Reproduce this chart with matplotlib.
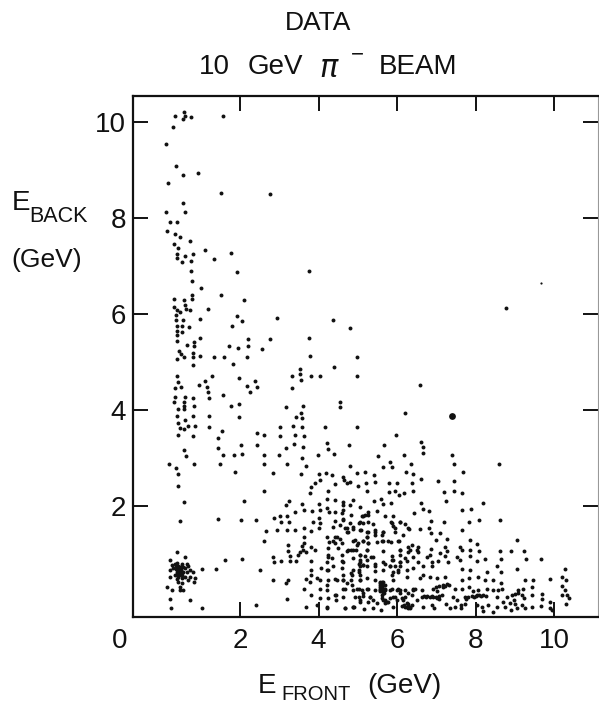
import numpy as np
import matplotlib
matplotlib.use("Agg")
import matplotlib.pyplot as plt
from matplotlib.transforms import blended_transform_factory

# (E_front, E_back) in GeV
events_high = [
(.34,10.12),(.57,10.19),(.54,10.05),(.60,10.12),(.76,10.09),(1.56,10.12),(.30,9.88),(.11,9.53),(.36,9.08),(.56,8.89),
(.92,8.92),(.16,8.72),(1.52,8.51),(2.76,8.49),(.56,8.30),(.12,8.11),(.60,8.11),(.40,7.92),(.21,7.90),(.14,7.72),
(.34,7.67),(.48,7.59),(.73,7.52),(.33,7.45),(.42,7.36),(1.12,7.32),(1.77,7.27),(.40,7.25),(.40,7.16),(.60,7.21),
(.79,7.25),(.53,7.07),(.74,7.10),(1.34,7.13),(.74,6.88),(1.92,6.86),(3.75,6.90),(.77,6.68),(1.01,6.53),(1.52,6.40),
(.78,6.39),(.77,6.31),(.33,6.30),(.57,6.29),(2.10,6.28),(.60,6.18),(.31,6.14),(.39,6.08),(.47,6.04),(.62,6.09),
(.73,6.08),(1.18,6.10),(.37,5.97),(1.93,5.95),(2.93,5.91),(4.36,5.87),(.37,5.87),(.54,5.88),(.97,5.90),(2.05,5.84),
(.39,5.75),(.53,5.75),(.71,5.73),(1.80,5.75),(4.80,5.70),(.39,5.65),(.52,5.61),(.39,5.56),(.99,5.50),(2.20,5.48),
(2.76,5.48),(3.75,5.50),(.39,5.43),(.82,5.42),(1.71,5.32),(.65,5.34),(.82,5.33),(1.94,5.29),(2.20,5.32),(2.55,5.27),
(.45,5.23),(.49,5.16),(.79,5.18),(.79,5.09),(.97,5.12),(3.78,5.13),(.57,5.09),(.40,5.06),(1.34,5.09),(1.58,5.11),
(2.17,5.09),(4.99,5.11),(8.78,6.11),
]
events_upper_mid = [
(.79,4.93),(1.82,4.95),(3.54,4.86),(3.54,4.75),(3.55,4.62),(3.32,4.71),(3.82,4.71),(4.05,4.71),(4.39,4.89),(4.99,4.71),
(.40,4.71),(1.28,4.71),(1.98,4.66),(1.12,4.61),(.41,4.57),(.96,4.52),(.49,4.48),(.34,4.46),(1.17,4.48),(2.18,4.50),
(2.38,4.59),(2.43,4.48),(3.32,4.45),(2.26,4.37),(1.18,4.37),(1.21,4.25),(1.57,4.30),(.35,4.27),(.33,4.17),(.59,4.27),
(.57,4.16),(.81,4.24),(.84,4.08),(.57,4.07),(1.77,4.09),(1.98,4.12),(4.55,4.17),(4.56,4.05),(3.17,4.05),(3.61,4.07),
(.41,4.01),(.57,4.02),(.40,3.87),(.79,3.87),(1.21,3.88),(1.97,3.86),(3.55,3.94),(3.42,3.85),(3.59,3.82),(.61,3.78),
(.41,3.72),(.68,3.67),(.85,3.66),(.47,3.62),(.57,3.61),(1.20,3.64),(3.01,3.64),(3.35,3.66),(3.58,3.64),(4.16,3.64),
(4.98,3.64),(1.53,3.56),(2.43,3.51),(2.62,3.48),(.41,3.48),(.79,3.46),(3.03,3.46),(3.39,3.48),(3.64,3.46),(1.44,3.41),
(4.21,3.30),(2.03,3.26),(2.43,3.26),(3.38,3.28),(3.61,3.23),(4.78,3.26),(1.44,3.20),(3.16,3.21),(4.24,3.19),(.58,3.17),
(.62,3.04),(1.57,3.07),(1.84,3.06),(2.06,3.08),(2.61,3.07),(3.00,3.07),(3.98,3.06),(4.39,3.08),(3.58,3.00),(2.61,2.87),
(3.20,2.87),(3.67,2.83),(4.79,2.84),(.18,2.87),(.84,2.87),(1.49,2.87),(.37,2.78),(1.88,2.70),(2.84,2.69),(.41,2.66),
(3.56,2.67),(4.01,2.66),(4.18,2.68),(4.35,2.65),(4.97,2.68),(4.62,2.60),(4.65,2.53),(4.72,2.48),(4.81,2.50),(4.04,2.53),
(3.92,2.47),(3.82,2.39),(3.79,2.26),(4.42,2.46),(.41,2.42),(5.0,2.42),(4.25,2.32),(2.61,2.31),
]
events_lower_mid = [
(4.22,2.14),(4.42,2.12),(4.63,2.09),(4.89,2.12),(2.10,2.11),(.57,2.09),(3.24,2.11),(3.16,2.01),(3.58,2.03),(4.00,2.05),
(4.21,1.96),(4.62,2.01),(4.80,2.01),(4.63,1.92),(3.40,1.87),(3.64,1.91),(3.83,1.89),(4.04,1.91),(4.27,1.87),(4.42,1.87),
(4.59,1.85),(4.84,1.81),(2.87,1.74),(3.02,1.80),(3.19,1.78),(3.04,1.66),(3.24,1.66),(.48,1.69),(1.44,1.72),(2.03,1.71),
(2.40,1.71),(3.87,1.66),(4.04,1.65),(4.02,1.74),(4.63,1.72),(4.42,1.69),(2.65,1.48),(2.95,1.49),(3.19,1.50),(3.39,1.50),
(3.64,1.55),(3.82,1.47),(4.01,1.55),(4.38,1.57),(4.55,1.60),(4.72,1.53),(4.75,1.46),(4.89,1.51),(5.02,1.64),(4.80,1.64),
(2.61,1.28),(3.64,1.35),(3.63,1.22),(4.21,1.35),(4.42,1.36),(4.55,1.32),(4.38,1.26),(3.23,1.19),(3.59,1.17),(3.82,1.15),
(3.91,1.08),(4.28,1.24),(4.50,1.12),(4.61,1.22),(4.93,1.29),(5.0,1.22),(3.23,1.06),(3.53,1.05),(3.61,1.08),(3.68,1.05),
(4.72,1.06),(4.84,1.08),(4.95,1.08),(3.27,.96),(3.49,.98),(4.25,.94),(4.61,.98),(2.83,.94),(2.87,.84),(3.05,.86),
(3.27,.86),(3.43,.85),(3.81,.85),(4.22,.84),(4.61,.85),(4.89,.91),(5.02,.80),(1.62,.87),(2.05,.89),
]
events_low_cluster = [
(.40,1.04),(.61,.94),(.22,.87),(.26,.77),(.34,.80),(.40,.82),(.51,.80),(.64,.80),(.68,.74),(.73,.67),
(.22,.67),(.30,.70),(.37,.74),(.43,.74),(.47,.70),(.43,.67),(.49,.67),(.39,.63),(.45,.61),(.54,.63),
(.60,.70),(.64,.63),(.22,.53),(.34,.56),(.43,.53),(.51,.56),(.60,.53),(.68,.46),(.73,.53),(.81,.63),
(.85,.49),(.83,.42),(.43,.42),(.51,.39),(.47,.32),(.56,.26),(.47,.24),(.15,.31),(.26,.24),(.22,.07),
(.23,-.13),(.73,.04),(1.04,-.12),(1.02,.68),(1.40,.69),(2.41,-.06),(2.51,.67),(2.84,.46),(.46,.72),(.41,.69),
(.45,.65),(.48,.64),(.42,.60),(.47,.58),(.50,.72),(.38,.69),(.44,.56),(.52,.50),(.40,.48),(.56,.72),
(.43,.63),(.46,.60),(.49,.60),(.40,.58),(.44,.70),(.50,.62),
]
events_floor_left = [
(3.23,.46),(3.17,.39),(3.21,.07),(3.62,.28),(3.80,.14),(3.68,-.10),(3.97,-.06),(4.22,-.12),(4.04,.08),(4.25,.09),
(4.45,.15),(4.45,.04),(4.63,.11),(4.68,-.12),(4.91,-.10),(5.02,.11),(4.89,.25),(4.68,.28),(4.72,.39),(4.84,.46),
(4.63,.46),(4.21,.35),(4.25,.46),(4.42,.47),(4.04,.28),(4.21,.24),(3.67,.47),(3.78,.42),(3.82,.56),(3.95,.49),
(4.04,.46),(3.82,.67),(4.06,.70),(4.25,.67),(4.59,.70),(4.63,.56),(4.84,.60),(5.02,.63),(5.06,.74),(4.38,.74),
]
events_right_upper = [
(6.59,4.52),(6.20,3.93),(5.97,3.48),(6.60,3.34),(6.65,3.22),(6.67,3.10),(5.66,3.27),(6.19,3.07),(7.41,3.07),(7.44,2.88),
(8.60,2.87),(5.52,3.03),(5.83,2.91),(5.64,2.81),(5.87,2.81),(6.36,2.87),(6.23,2.71),(6.41,2.67),(5.19,2.70),(5.42,2.64),
(5.44,2.50),(6.62,2.57),(7.68,2.71),(7.05,2.51),(7.45,2.51),(7.45,2.31),(7.21,2.29),(7.66,2.26),(5.21,2.47),(5.23,2.31),
(5.80,2.47),(5.99,2.48),(6.38,2.47),(5.95,2.32),(5.80,2.28),(6.04,2.23),(6.19,2.26),(6.40,2.32),(5.42,2.11),(5.59,2.15),
(5.65,2.04),(5.84,2.07),(6.60,2.07),(7.26,2.10),(8.19,2.06),(5.48,1.89),(5.69,1.80),(5.89,1.80),(6.43,1.85),(6.66,1.93),
(6.81,1.89),(7.65,1.91),(7.88,1.93),(5.25,1.87),(5.19,1.81),(5.10,1.78),(5.06,1.98),(5.84,1.67),(5.91,1.59),(6.08,1.67),
(6.21,1.62),(6.31,1.52),(5.95,1.46),(6.16,1.39),(5.40,1.62),(5.27,1.67),(5.14,1.64),(6.86,1.69),(7.21,1.67),(7.84,1.67),
(8.09,1.70),(8.63,1.70),(6.58,1.52),(6.81,1.55),(6.87,1.44),(7.09,1.44),(7.65,1.50),(5.09,1.50),(5.23,1.46),(5.44,1.50),
(5.65,1.46),(5.61,1.39),(5.44,1.39),(5.23,1.36),(7.00,1.30),(7.27,1.32),(7.87,1.29),(5.14,1.26),(5.27,1.22),(5.48,1.24),
(5.65,1.26),(5.84,1.24),(6.04,1.26),(6.29,1.15),(6.39,1.19),(6.54,1.15),(9.07,1.30),(7.61,1.15),(8.05,1.20),(7.22,1.15),
]
events_right_lower = [
(5.23,1.08),(5.65,1.07),(6.08,1.08),(6.50,1.08),(6.87,1.10),(7.28,1.06),(7.66,1.08),(8.09,1.06),(7.86,1.08),(8.62,1.06),
(8.90,1.07),(9.24,1.06),(7.09,1.03),(6.84,.98),(7.22,.96),(6.54,1.05),(6.29,1.05),(6.08,.98),(5.86,.96),(5.38,.94),
(5.19,.96),(5.06,.98),(9.66,.90),(8.66,.90),(8.23,.90),(9.28,.89),(7.52,.94),(7.86,.96),(8.03,.86),(7.61,.87),
(5.91,.87),(6.08,.84),(6.25,.86),(6.42,.93),(6.54,.84),(6.76,.94),(6.88,.84),(7.05,.86),(7.29,.84),(5.23,.87),
(5.06,.87),(5.14,.77),(5.44,.80),(5.69,.80),(5.82,.74),(5.95,.74),(6.08,.74),(10.27,.69),(9.06,.68),(8.56,.75),
(8.64,.63),(8.29,.63),(7.65,.69),(7.86,.67),(6.90,.74),(6.67,.75),(6.42,.70),(6.25,.67),(5.06,.56),(5.44,.65),
(5.65,.67),(5.89,.63),(6.03,.63),(10.20,.51),(10.30,.46),(9.91,.47),(9.47,.46),(9.26,.46),(8.06,.53),(7.84,.49),
(8.24,.46),(8.45,.46),(8.66,.39),(7.65,.46),(6.59,.49),(6.84,.53),(7.01,.49),(7.22,.53),(6.67,.56),(6.25,.53),
(5.91,.46),(5.65,.42),(5.44,.46),(5.23,.49),(5.06,.46),
]
events_dense_55 = [
(5.57,.39),(5.63,.42),(5.70,.35),(5.57,.31),(5.63,.31),(5.70,.28),(5.57,.24),(5.64,.22),(5.70,.24),(5.63,.15),
(5.63,.08),(5.70,.04),(5.70,-.03),(5.60,.35),(5.66,.27),(5.60,.27),(5.66,.18),(5.57,.42),(5.57,.35),(5.63,.35),
(5.57,.28),(5.63,.28),(5.57,.22),(5.65,.18),(5.65,.04),(5.74,.01),
]
events_dense_70 = [
(6.69,.12),(6.77,.12),(6.84,.11),(6.92,.10),(6.99,.11),(7.08,.12),(7.14,.15),(6.92,.28),(6.99,.31),(7.08,.33),
(7.18,.35),(7.27,.37),(7.33,.35),(7.18,.31),(7.03,.22),(7.08,.06),(6.73,.10),(6.88,.13),(7.03,.09),(7.23,.33),
]
events_dense_80 = [
(7.73,.11),(7.82,.10),(7.90,.12),(8.01,.12),(8.10,.15),(8.20,.15),(8.27,.12),(7.94,.22),(7.77,.06),(7.95,.10),
(8.05,.14),(8.15,.12),
]
events_dense_63 = [(6.12,-.08),(6.21,-.10),(6.29,-.08),(6.38,-.06),(6.32,-.13),(6.25,-.03),(6.17,-.06),(6.27,-.12),
(6.25,-.10),(6.33,-.10),(6.29,-.04)]
events_floor_right = [
(4.97,.28),(5.10,.25),(4.93,.11),(5.13,.12),(4.89,-.11),(5.16,-.15),(5.40,-.13),(5.58,-.17),(5.91,-.11),(5.78,-.01),
(5.27,.28),(5.44,.26),(5.31,.11),(5.40,.04),(5.48,-.03),(5.27,.01),(5.06,.01),(5.86,.28),(5.99,.26),(6.08,.25),
(6.21,.26),(6.42,.26),(6.46,.28),(6.63,.26),(5.91,.11),(5.82,.08),(5.99,.04),(6.12,.08),(6.21,.11),(6.37,.15),
(6.08,.18),(6.63,.11),(6.67,-.10),(6.88,-.06),(6.93,-.13),(6.50,.04),(7.26,-.04),(7.35,-.13),(7.48,-.11),(7.63,-.13),
(7.73,-.04),(7.52,.04),(7.63,-.06),(7.43,.11),(7.48,.28),(7.65,.28),(7.84,.31),(8.07,.26),(8.29,.28),(8.45,.25),
(8.58,.25),(8.67,.28),(8.54,.11),(8.03,-.06),(8.16,-.10),(8.18,-.18),(8.33,-.06),(8.44,-.20),(8.54,-.10),(8.71,-.01),
(8.75,-.10),(8.88,-.03),(8.90,-.17),(9.05,-.13),(9.01,-.04),(9.18,-.06),(9.26,-.13),(9.45,-.11),(9.66,-.08),(9.90,-.13),
(9.90,-.01),(9.94,-.17),(8.79,.11),(8.92,.15),(9.01,.17),(9.09,.18),(9.18,.15),(9.22,.28),(9.09,.26),(9.43,.32),
(9.43,.15),(9.69,.16),(9.70,.06),(9.24,.08),(8.97,.04),(10.21,.33),(10.28,.25),(10.32,.15),(10.37,.08),(10.20,.15),
(10.30,-.04),
]
events_centre = [
(4.63,1.71),(5.06,1.67),(5.14,1.78),(5.27,1.81),(4.68,1.53),(4.72,1.46),(4.89,1.57),(5.06,1.50),(5.27,1.46),(5.44,1.46),
(5.65,1.46),(5.23,1.36),(5.27,1.22),(4.89,1.26),(4.97,1.19),(4.76,1.08),(4.89,1.08),(5.14,1.26),(5.23,1.08),(5.06,.98),
(5.35,.94),(4.63,.84),(5.06,.84),(5.14,.77),(4.89,.67),(5.02,.67),(5.23,.74),(5.44,.74),(5.65,.84),(5.86,.87),
(5.82,.74),(6.03,.67),(5.86,.56),(6.08,.84),(6.20,.91),(6.33,1.08),(6.08,1.08),(5.78,1.26),(5.61,1.26),(6.03,1.26),
(5.86,1.64),(6.08,1.67),(6.29,1.53),(5.95,1.53),(4.46,1.36),(4.42,1.22),(4.25,1.12),(4.25,.98),(4.34,.91),(4.21,.67),
(4.46,.46),(4.63,.46),(4.85,.56),(4.85,.35),(5.06,.46),(5.23,.28),(5.02,.28),(5.14,.18),(5.31,.11),(5.06,.04),
(4.89,-.10),(4.68,-.13),(4.21,-.11),(4.42,.15),(4.63,.28),(5.82,.25),(6.03,.28),(5.95,.11),(6.29,.18),(6.16,.04),
(6.42,.28),
]
big_event = [(7.40,3.87)]
faint_event = [(9.66,6.65)]

event_groups = [events_high, events_upper_mid, events_lower_mid, events_low_cluster, events_floor_left,
                events_right_upper, events_right_lower, events_dense_55, events_dense_70, events_dense_80,
                events_dense_63, events_floor_right, events_centre]

x_ticks = [2, 4, 6, 8, 10]
y_ticks = [2, 4, 6, 8, 10]
INK = '#111111'

plt.rcParams['font.family'] = ['Liberation Sans', 'DejaVu Sans']
W, H = 599, 708
fig = plt.figure(figsize=(W/100, H/100), dpi=100)
L, R, T, B = 133, 598, 96, 617
ax = fig.add_axes([L/W, 1-B/H, (R-L)/W, (B-T)/H])
ax.set_xlim((L-161.5)/39.25, (R-161.5)/39.25)
ax.set_ylim((602-B)/48.04, (602-T)/48.04)

pts = np.array([p for g in event_groups for p in g])
ax.scatter(pts[:, 0], pts[:, 1], s=8, c=INK, linewidths=0, clip_on=False)
big = np.array(big_event)
ax.scatter(big[:, 0], big[:, 1], s=24, c=INK, linewidths=0)
faint = np.array(faint_event)
ax.scatter(faint[:, 0], faint[:, 1], s=2.5, c=INK, linewidths=0)

ax.set_xticks(x_ticks)
ax.set_yticks(y_ticks)
ax.tick_params(axis='both', which='both', direction='in', length=11, width=1.4, top=True, right=True,
               labelsize=20, colors=INK)
ax.tick_params(axis='x', pad=8)
ax.tick_params(axis='y', pad=5)
for side in ['left', 'top', 'bottom']:
    ax.spines[side].set_linewidth(1.6)
    ax.spines[side].set_color(INK)
ax.spines['right'].set_linewidth(0.8)
ax.spines['right'].set_color('#999999')

trans = blended_transform_factory(ax.transData, fig.transFigure)
ax.text(-1.06, 1-641/H, '0', transform=trans, ha='center', va='center', fontsize=20, color=INK, clip_on=False)

def ftext(x, y, s, **kw):
    kw.setdefault('color', INK)
    kw.setdefault('ha', 'center')
    kw.setdefault('va', 'center')
    fig.text(x/W, 1-y/H, s, **kw)

ftext(318, 23, 'DATA', fontsize=19)
ftext(214, 67, '10', fontsize=20)
ftext(275, 67, 'GeV', fontsize=20)
ftext(329, 69, r'$\pi$', fontsize=22, math_fontfamily='dejavusans')
ftext(357, 55, '\u2212', fontsize=16)
ftext(418, 67, 'BEAM', fontsize=20)
ftext(12, 203, 'E', fontsize=20, ha='left')
ftext(29, 216, 'BACK', fontsize=15.5, ha='left')
ftext(47, 260, '(GeV)', fontsize=19)
ftext(258, 686, 'E', fontsize=20, ha='left')
ftext(281, 694, 'FRONT', fontsize=14.5, ha='left')
ftext(404, 686, '(GeV)', fontsize=20)

fig.savefig('out.png', dpi=100)
